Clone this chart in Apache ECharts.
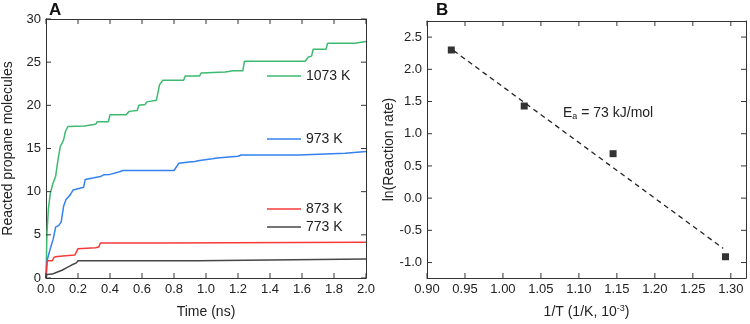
<!DOCTYPE html>
<html>
<head>
<meta charset="utf-8">
<script src="https://cdn.jsdelivr.net/npm/echarts@6/dist/echarts.min.js"></script>
<style>
  html, body { margin: 0; padding: 0; background: #fff; }
  #chart { width: 750px; height: 324px; }
</style>
</head>
<body>
<div id="chart"></div>
<script>
// panel A: reacted molecules vs time, [time (ns), molecules]
const curve1073 = [[0,0],[0.006,5.2],[0.015,8],[0.027,9.8],[0.044,11],[0.06,11.75],[0.075,13.7],[0.089,15.2],[0.11,16],[0.122,17],[0.137,17.55],
  [0.24,17.6],[0.25,17.8],[0.31,17.8],[0.32,18.1],[0.39,18.1],[0.40,18.9],[0.50,18.9],[0.52,19.3],[0.57,19.4],[0.58,20.0],[0.62,20.1],
  [0.63,20.4],[0.69,20.6],[0.71,22.4],[0.73,22.9],[0.86,22.9],[0.87,23.4],[0.96,23.4],[0.97,23.75],[1.12,23.85],[1.17,24.0],[1.23,24.0],
  [1.24,25.1],[1.62,25.1],[1.64,25.6],[1.66,25.7],[1.67,26.5],[1.75,26.5],[1.76,27.2],[1.93,27.2],[1.94,27.4],[2.0,27.4]];
const curve973 = [[0,0],[0.005,1.8],[0.012,2.4],[0.03,3.6],[0.045,4.5],[0.06,5.9],[0.08,6.1],[0.095,6.5],[0.11,8.3],[0.125,9.1],[0.15,9.6],
  [0.17,10.2],[0.235,10.5],[0.245,11.4],[0.30,11.6],[0.34,11.75],[0.36,11.95],[0.40,12.0],[0.41,12.2],[0.46,12.3],[0.48,12.45],[0.80,12.45],
  [0.82,13.0],[0.83,13.3],[0.88,13.4],[0.93,13.5],[0.96,13.6],[1.04,13.8],[1.07,13.9],[1.2,14.1],[1.22,14.25],[1.58,14.25],[1.59,14.45],
  [1.87,14.45],[1.88,14.65],[2.0,14.65]];
const curve873 = [[0,0],[0.008,2.0],[0.04,2.0],[0.05,2.4],[0.07,2.5],[0.08,2.6],[0.18,2.65],[0.19,2.7],[0.2,3.4],[0.31,3.5],[0.33,3.6],
  [0.34,4.05],[0.72,4.05],[0.73,4.15],[2.0,4.15]];
const curve773 = [[0,0],[0.005,0.4],[0.04,0.45],[0.06,0.6],[0.1,0.9],[0.13,1.2],[0.16,1.5],[0.19,1.75],[0.2,2.0],[0.95,2.0],[0.96,2.2],[2.0,2.2]];
const tempNames = ['1073 K', '973 K', '873 K', '773 K'];
const ticksAx = [0, 0.2, 0.4, 0.6, 0.8, 1.0, 1.2, 1.4, 1.6, 1.8, 2.0];
const ticksAy = [0, 5, 10, 15, 20, 25, 30];

// panel B: Arrhenius plot
const invT = [0.932, 1.028, 1.145, 1.293];
const lnRate = [2.30, 1.43, 0.69, -0.91];
const fitX = [0.935, 1.29];
const fitY = [2.29, -0.78];
const ticksBx = [0.90, 0.95, 1.00, 1.05, 1.10, 1.15, 1.20, 1.25, 1.30];
const ticksBy = [-1.0, -0.5, 0.0, 0.5, 1.0, 1.5, 2.0, 2.5];

const rangeA = { x: [0, 2], y: [0, 30] };
const rangeB = { x: [0.9, 1.32], y: [-1.24, 2.75] };

const fontFam = '"Liberation Sans", Arial, sans-serif';
const axisCol = '#333';
const labCol = '#222';
const tickLen = 5;

function ax(extra) {
    return Object.assign({
        type: 'value',
        axisLine: { show: true, onZero: false, lineStyle: { color: axisCol, width: 1 } },
        axisTick: { show: false },
        axisLabel: { show: false },
        splitLine: { show: false }
    }, extra);
}

function tickSeg(x1, y1, x2, y2) {
    return { type: 'line', shape: { x1: x1, y1: y1, x2: x2, y2: y2 },
             style: { stroke: axisCol, lineWidth: 1 } };
}

// inward ticks on both opposite sides of the frame, placed through the axis scale
function tickSeries(gridIdx, range, values, dim) {
    return {
        type: 'custom', xAxisIndex: gridIdx * 2, yAxisIndex: gridIdx * 2,
        silent: true, clip: false, z: 5,
        data: values.map(v => dim === 0 ? [v, range.y[0]] : [range.x[0], v]),
        renderItem: (params, api) => {
            const v = api.value(dim);
            if (dim === 0) {
                const a = api.coord([v, range.y[0]]), b = api.coord([v, range.y[1]]);
                return { type: 'group', children: [
                    tickSeg(a[0], a[1], a[0], a[1] - tickLen),
                    tickSeg(b[0], b[1], b[0], b[1] + tickLen) ] };
            }
            const a = api.coord([range.x[0], v]), b = api.coord([range.x[1], v]);
            return { type: 'group', children: [
                tickSeg(a[0], a[1], a[0] + tickLen, a[1]),
                tickSeg(b[0], b[1], b[0] - tickLen, b[1]) ] };
        }
    };
}

const chart = echarts.init(document.getElementById('chart'));
const option = {
    animation: false,
    grid: [
        { left: 45, top: 19, width: 321, height: 259 },
        { left: 427, top: 21, width: 319, height: 258 }
    ],
    legend: [
        { data: [tempNames[0]], left: 267, top: 68 },
        { data: [tempNames[1]], left: 267, top: 131 },
        { data: [tempNames[2]], left: 267, top: 201 },
        { data: [tempNames[3]], left: 267, top: 219 }
    ].map(l => Object.assign(l, {
        padding: 0, icon: 'rect', itemWidth: 34, itemHeight: 1.6, itemGap: 5,
        textStyle: { fontSize: 14, color: labCol, fontFamily: fontFam, lineHeight: 16 }
    })),
    xAxis: [
        ax({ gridIndex: 0, min: rangeA.x[0], max: rangeA.x[1], interval: 0.2, position: 'bottom',
            name: 'Time (ns)', nameLocation: 'middle', nameGap: 27,
            nameTextStyle: { fontSize: 14, color: labCol, fontFamily: fontFam },
            axisLabel: { show: true, fontSize: 13, color: labCol, fontFamily: fontFam, margin: 5, formatter: v => v.toFixed(1) } }),
        ax({ gridIndex: 0, min: rangeA.x[0], max: rangeA.x[1], interval: 0.2, position: 'top' }),
        ax({ gridIndex: 1, min: rangeB.x[0], max: rangeB.x[1], position: 'bottom',
            name: '1/T (1/K, 10{sup|-3})', nameLocation: 'middle', nameGap: 26,
            nameTextStyle: { fontSize: 14, color: labCol, fontFamily: fontFam,
                rich: { sup: { fontSize: 9, verticalAlign: 'top', padding: [0, 0, 7, 0], color: labCol, fontFamily: fontFam } } },
            axisLabel: { show: true, fontSize: 13, color: labCol, fontFamily: fontFam, margin: 5, customValues: ticksBx, formatter: v => v.toFixed(2) } }),
        ax({ gridIndex: 1, min: rangeB.x[0], max: rangeB.x[1], position: 'top' })
    ],
    yAxis: [
        ax({ gridIndex: 0, min: rangeA.y[0], max: rangeA.y[1], interval: 5, position: 'left',
            name: 'Reacted propane molecules', nameLocation: 'middle', nameGap: 31,
            nameTextStyle: { fontSize: 14, color: labCol, fontFamily: fontFam },
            axisLabel: { show: true, fontSize: 13, color: labCol, fontFamily: fontFam, margin: 5 } }),
        ax({ gridIndex: 0, min: rangeA.y[0], max: rangeA.y[1], interval: 5, position: 'right' }),
        ax({ gridIndex: 1, min: rangeB.y[0], max: rangeB.y[1], position: 'left',
            name: 'ln(Reaction rate)', nameLocation: 'middle', nameGap: 30,
            nameTextStyle: { fontSize: 14, color: labCol, fontFamily: fontFam },
            axisLabel: { show: true, fontSize: 13, color: labCol, fontFamily: fontFam, margin: 5, customValues: ticksBy, formatter: v => v.toFixed(1) } }),
        ax({ gridIndex: 1, min: rangeB.y[0], max: rangeB.y[1], position: 'right' })
    ],
    graphic: [
        { type: 'text', left: 49, top: 2,
          style: { text: 'A', fontSize: 17, fontWeight: 'bold', fill: '#111', fontFamily: fontFam } },
        { type: 'text', left: 436, top: 2,
          style: { text: 'B', fontSize: 17, fontWeight: 'bold', fill: '#111', fontFamily: fontFam } },
        { type: 'text', left: 563, top: 106,
          style: { text: 'E{sub|a} = 73 kJ/mol', fontSize: 14, fill: labCol, fontFamily: fontFam,
                   rich: { sub: { fontSize: 9, verticalAlign: 'bottom', padding: [8, 0, 0, 0], fill: labCol, fontFamily: fontFam } } } }
    ],
    series: [
        { name: tempNames[0], data: curve1073, color: '#3dba6f' },
        { name: tempNames[1], data: curve973, color: '#3382f0' },
        { name: tempNames[2], data: curve873, color: '#f63a3a' },
        { name: tempNames[3], data: curve773, color: '#474747' }
    ].map(s => Object.assign(s, {
        type: 'line', xAxisIndex: 0, yAxisIndex: 0, symbol: 'none', lineStyle: { width: 1.5 }
    })).concat([
        { type: 'line', xAxisIndex: 2, yAxisIndex: 2, symbol: 'none',
          data: fitX.map((x, i) => [x, fitY[i]]),
          lineStyle: { color: '#222', width: 1.3, type: [5, 4] } },
        { type: 'scatter', xAxisIndex: 2, yAxisIndex: 2, symbol: 'rect', symbolSize: 7,
          itemStyle: { color: '#000' },
          data: invT.map((x, i) => [x, lnRate[i]]) },
        tickSeries(0, rangeA, ticksAx, 0),
        tickSeries(0, rangeA, ticksAy, 1),
        tickSeries(1, rangeB, ticksBx, 0),
        tickSeries(1, rangeB, ticksBy, 1)
    ])
};
chart.setOption(option);
</script>
</body>
</html>
